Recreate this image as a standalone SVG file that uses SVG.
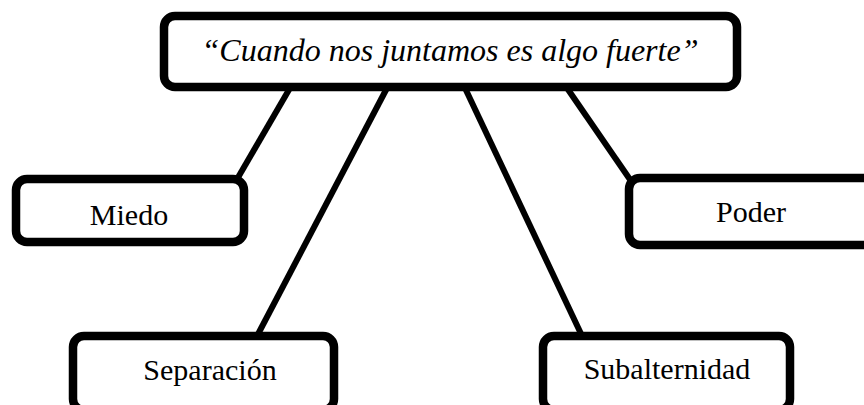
<svg xmlns="http://www.w3.org/2000/svg" width="864" height="405" viewBox="0 0 864 405">
<style>
.box{fill:#fff;stroke:#000;stroke-width:8.5}
.lbl{font-family:"Liberation Serif","Times New Roman",serif;font-size:30px;fill:#000;text-anchor:middle}
.title{font-style:italic;font-size:32px}
.conn line{stroke:#000;stroke-width:6}
</style>
<rect width="864" height="405" fill="#fff"/>
<g id="connectors" class="conn">
<line x1="290" y1="88" x2="236" y2="181"/>
<line x1="387" y1="88" x2="256" y2="338"/>
<line x1="465" y1="88" x2="583" y2="338"/>
<line x1="567" y1="88" x2="631" y2="181"/>
</g>
<g id="node-main">
<rect class="box" x="164" y="16" width="573" height="71" rx="11"/>
<text class="lbl title" x="450" y="61">“Cuando nos juntamos es algo fuerte”</text>
</g>
<g id="node-miedo">
<rect class="box" x="16" y="179" width="228" height="63" rx="11"/>
<text class="lbl" x="129" y="225">Miedo</text>
</g>
<g id="node-poder">
<rect class="box" x="629" y="178" width="260" height="67" rx="11"/>
<text class="lbl" x="751" y="222">Poder</text>
</g>
<g id="node-separacion">
<rect class="box" x="73" y="336" width="261" height="74" rx="11"/>
<text class="lbl" x="210" y="380">Separación</text>
</g>
<g id="node-subalternidad">
<rect class="box" x="543" y="336" width="247" height="74" rx="11"/>
<text class="lbl" x="667" y="379">Subalternidad</text>
</g>
</svg>
